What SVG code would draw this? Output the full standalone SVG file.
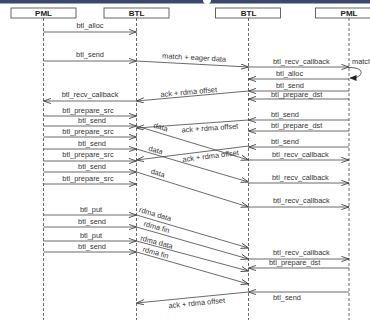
<svg xmlns="http://www.w3.org/2000/svg" width="370" height="320" viewBox="0 0 370 320">
<style>
.hdr rect{fill:#fff;stroke:#555;stroke-width:0.9}
.hdr text{font-family:"Liberation Sans",Arial,sans-serif;font-size:8px;font-weight:bold;fill:#222;text-anchor:middle}
.life{stroke:#444;stroke-width:0.8;stroke-dasharray:3,2;fill:none}
.m{stroke:#444;stroke-width:0.8;fill:none;marker-end:url(#a)}
.lb{font-family:"Liberation Sans",Arial,sans-serif;font-size:7.4px;fill:#333}
.c{text-anchor:middle}
</style>
<defs>
<marker id="a" viewBox="0 0 8 6" refX="7.6" refY="3" markerWidth="8" markerHeight="6" markerUnits="userSpaceOnUse" orient="auto">
<path d="M0,0.4 L7.6,3 L0,5.6" fill="none" stroke="#444" stroke-width="0.9"/>
</marker>
<marker id="f" viewBox="0 0 7 6" refX="6.5" refY="3" markerWidth="7" markerHeight="6" markerUnits="userSpaceOnUse" orient="auto">
<path d="M0,0 L7,3 L0,6 Z" fill="#222"/>
</marker>
</defs>
<rect width="370" height="320" fill="#fff"/>
<rect x="0" y="0" width="370" height="3.5" fill="#3b4868"/>
<circle cx="207" cy="0" r="4" fill="#fff"/>

<g id="pml1" class="hdr"><rect x="11" y="8" width="65" height="10"/><text x="43.5" y="16">PML</text><line class="life" x1="43.5" y1="18" x2="43.5" y2="320"/></g>
<g id="btl1" class="hdr"><rect x="104" y="8" width="65" height="10"/><text x="136.5" y="16">BTL</text><line class="life" x1="136.5" y1="18" x2="136.5" y2="320"/></g>
<g id="btl2" class="hdr"><rect x="215.5" y="8" width="65" height="10"/><text x="248.5" y="16">BTL</text><line class="life" x1="248.5" y1="18" x2="248.5" y2="320"/></g>
<g id="pml2" class="hdr"><rect x="315.5" y="8" width="65" height="10"/><text x="349" y="16">PML</text><line class="life" x1="349" y1="18" x2="349" y2="320"/></g>

<g id="connectors">
<!-- left -->
<line class="m" x1="43.5" y1="32" x2="136.5" y2="32"/>
<line class="m" x1="43.5" y1="61" x2="136.5" y2="61"/>
<line class="m" x1="136.5" y1="101" x2="43.5" y2="101"/>
<line class="m" x1="43.5" y1="116" x2="136.5" y2="116"/>
<line class="m" x1="43.5" y1="126" x2="136.5" y2="126"/>
<line class="m" x1="43.5" y1="137" x2="136.5" y2="137"/>
<line class="m" x1="43.5" y1="149" x2="136.5" y2="149"/>
<line class="m" x1="43.5" y1="161" x2="136.5" y2="161"/>
<line class="m" x1="43.5" y1="172" x2="136.5" y2="172"/>
<line class="m" x1="43.5" y1="184" x2="136.5" y2="184"/>
<line class="m" x1="43.5" y1="215" x2="136.5" y2="215"/>
<line class="m" x1="43.5" y1="227" x2="136.5" y2="227"/>
<line class="m" x1="43.5" y1="241" x2="136.5" y2="241"/>
<line class="m" x1="43.5" y1="252" x2="136.5" y2="252"/>
<!-- middle -->
<line class="m" x1="136.5" y1="61" x2="248.5" y2="67"/>
<line class="m" x1="248.5" y1="91" x2="136.5" y2="101"/>
<line class="m" x1="248.5" y1="120" x2="136.5" y2="128"/>
<line class="m" x1="136.5" y1="126" x2="248.5" y2="160"/>
<line class="m" x1="248.5" y1="146" x2="136.5" y2="160"/>
<line class="m" x1="136.5" y1="149" x2="248.5" y2="182"/>
<line class="m" x1="136.5" y1="172" x2="248.5" y2="207"/>
<line class="m" x1="136.5" y1="215" x2="248.5" y2="248"/>
<line class="m" x1="136.5" y1="227" x2="248.5" y2="259"/>
<line class="m" x1="136.5" y1="241" x2="248.5" y2="271"/>
<line class="m" x1="136.5" y1="252" x2="248.5" y2="284"/>
<line class="m" x1="248.5" y1="292" x2="136.5" y2="303"/>
<!-- right -->
<line class="m" x1="248.5" y1="67" x2="349" y2="67"/>
<path d="M349,67.5 C358,67.5 362,70 361,73.5 C360,76.5 356,78 350,78" fill="none" stroke="#333" stroke-width="0.8" marker-end="url(#f)"/>
<line class="m" x1="349" y1="79" x2="248.5" y2="79"/>
<line class="m" x1="349" y1="91" x2="248.5" y2="91"/>
<line class="m" x1="349" y1="99" x2="248.5" y2="99"/>
<line class="m" x1="349" y1="120" x2="248.5" y2="120"/>
<line class="m" x1="349" y1="131" x2="248.5" y2="131"/>
<line class="m" x1="349" y1="147" x2="248.5" y2="147"/>
<line class="m" x1="248.5" y1="160" x2="349" y2="160"/>
<line class="m" x1="248.5" y1="183" x2="349" y2="183"/>
<line class="m" x1="248.5" y1="207" x2="349" y2="207"/>
<line class="m" x1="248.5" y1="259" x2="349" y2="259"/>
<line class="m" x1="349" y1="268" x2="248.5" y2="268"/>
<line class="m" x1="349" y1="292" x2="248.5" y2="292"/>
</g>

<g id="labels" class="lb">
<text class="c" x="90" y="28">btl_alloc</text>
<text class="c" x="90" y="57">btl_send</text>
<text class="c" x="90" y="97">btl_recv_callback</text>
<text class="c" x="88" y="112.5">btl_prepare_src</text>
<text class="c" x="92" y="122.5">btl_send</text>
<text class="c" x="88" y="133.5">btl_prepare_src</text>
<text class="c" x="92" y="145.5">btl_send</text>
<text class="c" x="88" y="157">btl_prepare_src</text>
<text class="c" x="92" y="168.5">btl_send</text>
<text class="c" x="88" y="180.5">btl_prepare_src</text>
<text class="c" x="91" y="211.5">btl_put</text>
<text class="c" x="92" y="223.5">btl_send</text>
<text class="c" x="91" y="237.5">btl_put</text>
<text class="c" x="92" y="248.5">btl_send</text>

<text class="c" x="194" y="60" transform="rotate(3.1 194 60)">match + eager data</text>
<text class="c" x="189" y="94.5" transform="rotate(-5.1 189 94.5)">ack + rdma offset</text>
<text class="c" x="210" y="130.5" transform="rotate(-4.1 210 130.5)">ack + rdma offset</text>
<text class="c" x="211" y="158.5" transform="rotate(-7.1 211 158.5)">ack + rdma offset</text>
<text class="c" x="197" y="305.5" transform="rotate(-5.6 197 305.5)">ack + rdma offset</text>
<text class="c" x="160" y="129.5" transform="rotate(16.9 160 129.5)">data</text>
<text class="c" x="155" y="152.5" transform="rotate(16.4 155 152.5)">data</text>
<text class="c" x="157" y="175.5" transform="rotate(17.4 157 175.5)">data</text>
<text class="c" x="154.5" y="216.5" transform="rotate(16.4 154.5 216.5)">rdma data</text>
<text class="c" x="156" y="229.5" transform="rotate(15.9 156 229.5)">rdma fin</text>
<text class="c" x="156" y="244.5" transform="rotate(15 156 244.5)">rdma data</text>
<text class="c" x="155" y="255" transform="rotate(15.9 155 255)">rdma fin</text>

<text x="273" y="63.5">btl_recv_callback</text>
<text x="352" y="64">match</text>
<text x="276" y="75.5">btl_alloc</text>
<text x="276" y="88">btl_send</text>
<text x="271" y="97">btl_prepare_dst</text>
<text x="271" y="117">btl_send</text>
<text x="271" y="128">btl_prepare_dst</text>
<text x="271" y="143.5">btl_send</text>
<text x="272" y="156.5">btl_recv_callback</text>
<text x="272" y="179.5">btl_recv_callback</text>
<text x="273" y="203">btl_recv_callback</text>
<text x="273" y="255">btl_recv_callback</text>
<text x="269" y="265">btl_prepare_dst</text>
<text x="273" y="300">btl_send</text>
</g>
</svg>
